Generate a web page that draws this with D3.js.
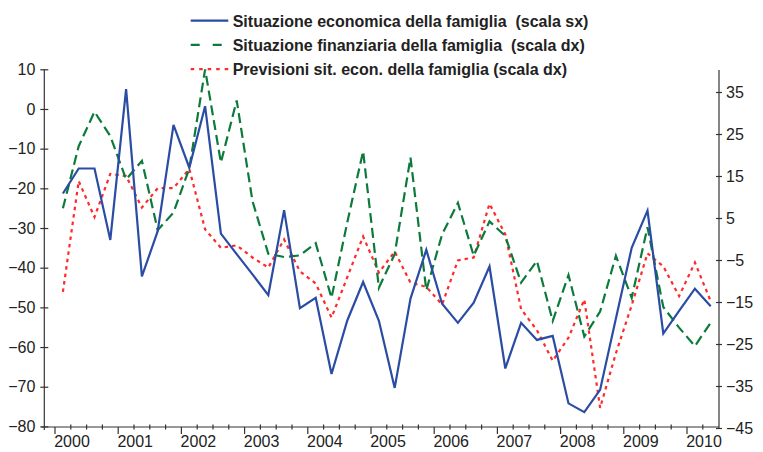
<!DOCTYPE html>
<html>
<head>
<meta charset="utf-8">
<script src="https://cdn.jsdelivr.net/npm/d3@7"></script>
<style>
  body { margin: 0; background: #fff; }
  svg { display: block; font-family: "Liberation Sans", Arial, sans-serif; }
  .legtext { white-space: pre; }
</style>
</head>
<body>
<svg id="chart" width="763" height="452"></svg>
<script>
// quarterly categories, 2000Q1 .. 2010Q2
var years = ["2000", "2001", "2002", "2003", "2004", "2005", "2006", "2007", "2008", "2009", "2010"];
var quarters = [];
years.forEach(function(y) {
  ["T1", "T2", "T3", "T4"].forEach(function(q) {
    if (!(y === "2010" && (q === "T3" || q === "T4"))) quarters.push(y + q);
  });
});

// Situazione economica della famiglia (scala sx)
var economica = [-21.3, -15, -15, -33, 5, -42.2, -30.8, -4, -14.8, 0.7,
  -31.4, -36.6, -41.7, -46.9, -25.5, -50.2, -47.6, -66.8, -53.3, -43.6,
  -53.4, -70.3, -47.8, -35.5, -49.1, -53.9, -48.8, -39.7, -65.4, -53.9,
  -58.2, -57.2, -74.2, -76.4, -70.8, -52.8, -35, -25.6, -56.6, -50.9,
  -45.3, -49.7];

// Situazione finanziaria della famiglia (scala dx)
var finanziaria = [7.3, 22.1, 30.3, 24.5, 14.2, 18.6, 2.1, 6.3, 16.8, 40.4,
  18.2, 33, 9, -3.5, -4.3, -3.9, -1, -14, 4, 20.9,
  -11.6, -3.6, 19.4, -12.2, 1.1, 8.6, -4, 4.2, 0.7, -10.4,
  -5.2, -19.5, -8.6, -23.2, -17.3, -4, -14, 2.8, -16.2, -21.1,
  -25.5, -19.9];

// Previsioni sit. econ. della famiglia (scala dx)
var previsioni = [-12.6, 13.8, 5.2, 15.5, 15, 7.5, 12.1, 12.1, 16.7, 2.3,
  -2.1, -1.5, -4.4, -6.8, -0.1, -7.7, -10.6, -18.7, -9.1, 0.6,
  -8, -3, -10.4, -11.4, -15.6, -5.1, -4.4, 8.4, 1.1, -16.7,
  -21.7, -29, -23.5, -14.4, -40.2, -27.2, -15.8, -3.4, -6.5, -13.6,
  -5.6, -14.8];

var leftTicks = [10, 0, -10, -20, -30, -40, -50, -60, -70, -80];
var rightTicks = [35, 25, 15, 5, -5, -15, -25, -35, -45];

var svg = d3.select("#chart");
var axisColor = "#333";

var leftX = 44.3, rightX = 719, baseY = 427;

// category scale: each quarter is a band, points sit in the middle
var x = d3.scaleBand()
  .domain(quarters)
  .range([55, 718.6])
  .padding(0);
var xMid = function(q) { return x(q) + x.bandwidth() / 2; };

var yLeft = d3.scaleLinear().domain([-80, 10]).range([426.4, 69.3]);
var yRight = d3.scaleLinear().domain([-45, 40]).range([428, 71]);

// left axis
var gl = svg.append("g")
  .attr("transform", "translate(" + leftX + ",0)")
  .call(d3.axisLeft(yLeft).tickValues(leftTicks).tickSizeInner(4).tickSizeOuter(0).tickPadding(5));
gl.select(".domain").remove();
gl.selectAll(".tick line").attr("x1", -4).attr("x2", 4);
gl.append("line").attr("x1", 0).attr("x2", 0).attr("y1", 69.3).attr("y2", 430);

// right axis
var gr = svg.append("g")
  .attr("transform", "translate(" + rightX + ",0)")
  .call(d3.axisRight(yRight).tickValues(rightTicks).tickSizeInner(3).tickSizeOuter(0).tickPadding(4));
gr.select(".domain").remove();
gr.selectAll(".tick line").attr("x1", -3).attr("x2", 3);
gr.append("line").attr("x1", 0).attr("x2", 0).attr("y1", 70).attr("y2", 429);

[gl, gr].forEach(function(g) {
  g.selectAll("line").attr("stroke", axisColor).attr("stroke-width", 1.2);
  g.selectAll("text").attr("font-size", 16).attr("fill", "#222")
    .attr("font-family", "'Liberation Sans', Arial, sans-serif");
});

// bottom axis: quarter boundaries, long ticks at year starts
var gx = svg.append("g");
gx.append("line")
  .attr("x1", leftX - 3).attr("x2", rightX)
  .attr("y1", baseY).attr("y2", baseY)
  .attr("stroke", axisColor).attr("stroke-width", 1.2);

gx.selectAll(".qtick")
  .data(quarters)
  .enter()
  .append("line")
  .attr("class", "qtick")
  .attr("x1", d => x(d)).attr("x2", d => x(d))
  .attr("y1", d => d.slice(4) === "T1" ? baseY : baseY - 2.5)
  .attr("y2", d => d.slice(4) === "T1" ? baseY + 7 : baseY + 2.5)
  .attr("stroke", axisColor).attr("stroke-width", 1.2);

gx.selectAll(".ylabel")
  .data(years)
  .enter()
  .append("text")
  .attr("class", "ylabel")
  .attr("x", d => x(d + "T1") + 17)
  .attr("y", 447.3)
  .attr("text-anchor", "middle")
  .attr("font-size", 16)
  .attr("fill", "#222")
  .text(d => d);

// series
var series = [
  { name: "Situazione economica della famiglia  (scala sx)", values: economica, y: yLeft,
    color: "#2a4ca3", dash: null, legendDash: null },
  { name: "Situazione finanziaria della famiglia  (scala dx)", values: finanziaria, y: yRight,
    color: "#0c7a3a", dash: "10,5", legendDash: "9,13" },
  { name: "Previsioni sit. econ. della famiglia (scala dx)", values: previsioni, y: yRight,
    color: "#ff2a2a", dash: "3.5,4", legendDash: "3.5,5" }
];

// draw the red first, then green, blue on top
[series[2], series[1], series[0]].forEach(function(s) {
  var line = d3.line()
    .x((d, i) => xMid(quarters[i]))
    .y(d => s.y(d));
  svg.append("path")
    .datum(s.values)
    .attr("fill", "none")
    .attr("stroke", s.color)
    .attr("stroke-width", 2.2)
    .attr("stroke-linejoin", "miter")
    .attr("stroke-dasharray", s.dash)
    .attr("d", line);
});

// legend
var legend = svg.append("g");
series.forEach(function(s, i) {
  var ly = 20.7 + i * 24.2;
  legend.append("line")
    .attr("x1", 190.7).attr("x2", 228.3)
    .attr("y1", ly).attr("y2", ly)
    .attr("stroke", s.color)
    .attr("stroke-width", 2.2)
    .attr("stroke-dasharray", s.legendDash);
  legend.append("text")
    .attr("class", "legtext")
    .attr("x", 232.7)
    .attr("y", ly + 6)
    .attr("font-size", 16)
    .attr("font-weight", "bold")
    .attr("fill", "#222")
    .text(s.name);
});
</script>
</body>
</html>
